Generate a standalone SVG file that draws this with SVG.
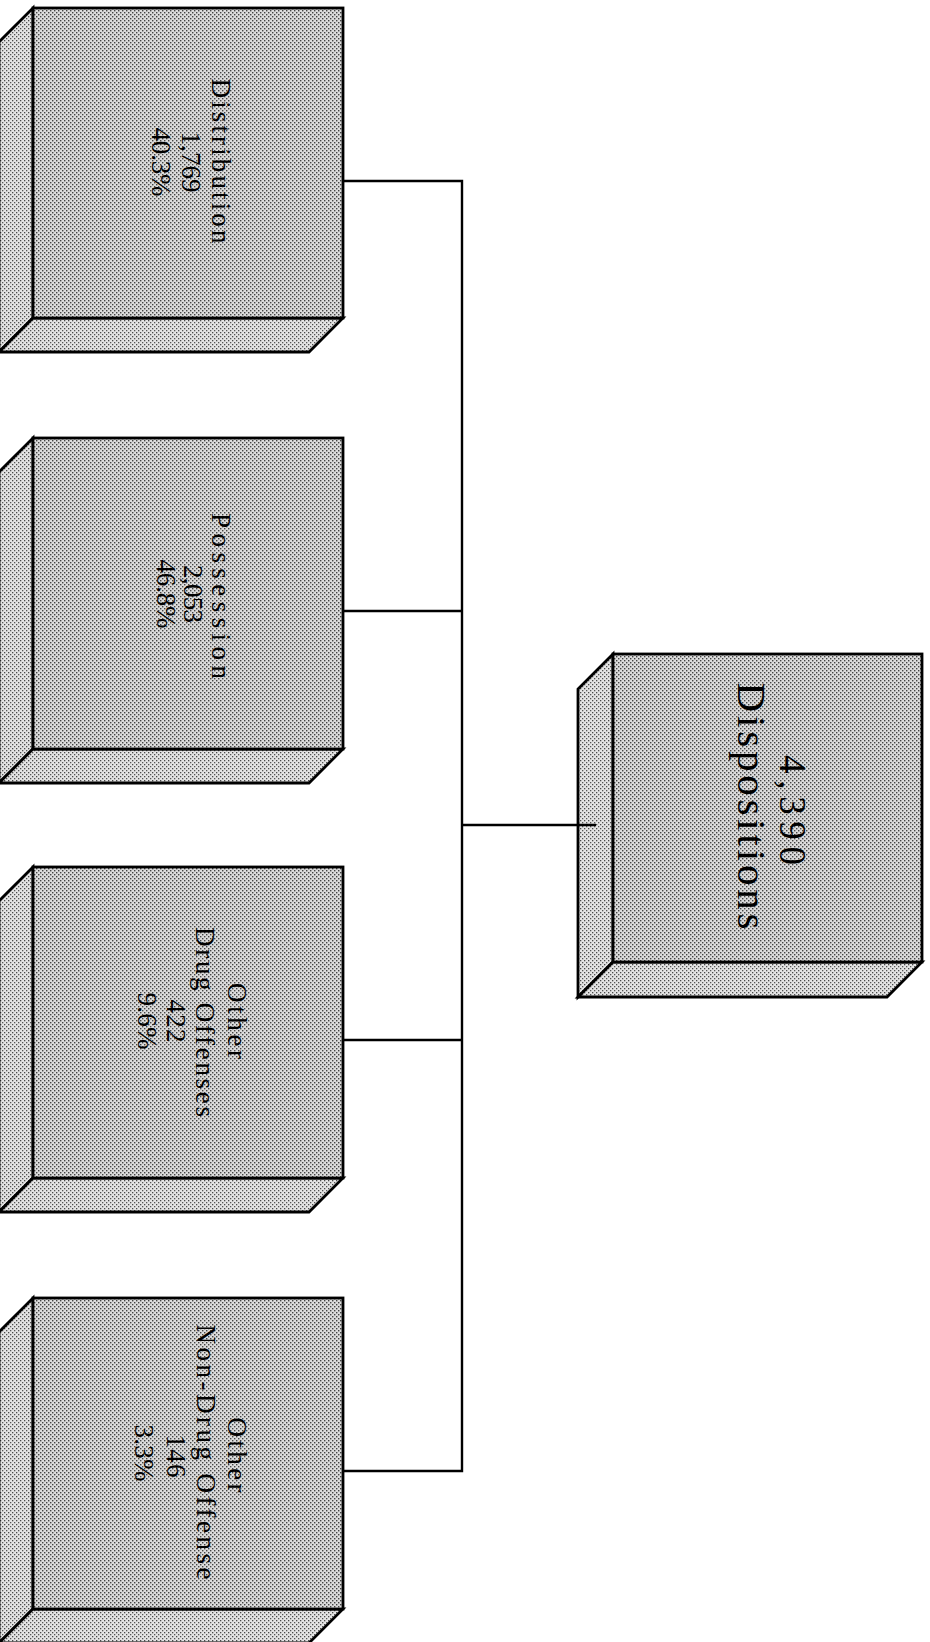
<svg xmlns="http://www.w3.org/2000/svg" width="930" height="1642" viewBox="0 0 930 1642">
<style>
.face{fill:url(#dotsFront);stroke:#000;stroke-width:2.8;stroke-linejoin:miter}
.side{fill:url(#dotsSide);stroke:#000;stroke-width:2.8;stroke-linejoin:miter}
.lbl{font-family:"Liberation Serif","Times New Roman",serif;font-size:27px;fill:#000;text-anchor:middle}
.big{font-family:"Liberation Serif","Times New Roman",serif;fill:#000;text-anchor:middle}
.conn{fill:none;stroke:#000;stroke-width:2.4}
</style>
<defs>
<pattern id="dotsFront" width="4" height="4" patternUnits="userSpaceOnUse">
<rect width="4" height="4" fill="#dcdcdc"/>
<rect x="0" y="0" width="1.4" height="1.4" fill="#444"/>
<rect x="2" y="2" width="1.4" height="1.4" fill="#444"/>
</pattern>
<pattern id="dotsSide" width="4" height="4" patternUnits="userSpaceOnUse">
<rect width="4" height="4" fill="#e4e4e4"/>
<rect x="0" y="0" width="1.3" height="1.3" fill="#4a4a4a"/>
<rect x="2" y="2" width="1.3" height="1.3" fill="#555"/>
</pattern>
</defs>
<rect width="930" height="1642" fill="#fff"/>

<g id="node-distribution">
<polygon class="side" points="33,8 -1,42 -1,352 33,318"/>
<polygon class="side" points="33,318 343,318 309,352 -1,352"/>
<rect class="face" x="33" y="8" width="310" height="310"/>
<text class="lbl" transform="translate(212,161) rotate(90)" textLength="165" lengthAdjust="spacing">Distribution</text>
<text class="lbl" transform="translate(182,162) rotate(90)" textLength="61" lengthAdjust="spacing">1,769</text>
<text class="lbl" transform="translate(152,162) rotate(90)" textLength="69" lengthAdjust="spacing">40.3%</text>
</g>

<g id="node-possession">
<polygon class="side" points="33,438 -1,472 -1,783 33,749"/>
<polygon class="side" points="33,749 343,749 309,783 -1,783"/>
<rect class="face" x="33" y="438" width="310" height="311"/>
<text class="lbl" transform="translate(212,596) rotate(90)" textLength="166" lengthAdjust="spacing">Possession</text>
<text class="lbl" transform="translate(184,594) rotate(90)" textLength="58" lengthAdjust="spacing">2,053</text>
<text class="lbl" transform="translate(157,594) rotate(90)" textLength="69" lengthAdjust="spacing">46.8%</text>
</g>

<g id="node-other-drug">
<polygon class="side" points="33,867 -1,901 -1,1212 33,1178"/>
<polygon class="side" points="33,1178 343,1178 309,1212 -1,1212"/>
<rect class="face" x="33" y="867" width="310" height="311"/>
<text class="lbl" transform="translate(228,1021) rotate(90)" textLength="76" lengthAdjust="spacing">Other</text>
<text class="lbl" transform="translate(196,1022) rotate(90)" textLength="190" lengthAdjust="spacing">Drug Offenses</text>
<text class="lbl" transform="translate(167,1021) rotate(90)" textLength="43" lengthAdjust="spacing">422</text>
<text class="lbl" transform="translate(138,1021) rotate(90)" textLength="57" lengthAdjust="spacing">9.6%</text>
</g>

<g id="node-other-nondrug">
<polygon class="side" points="33,1298 -1,1332 -1,1643 33,1609"/>
<polygon class="side" points="33,1609 343,1609 309,1643 -1,1643"/>
<rect class="face" x="33" y="1298" width="310" height="311"/>
<text class="lbl" transform="translate(228,1455) rotate(90)" textLength="75" lengthAdjust="spacing">Other</text>
<text class="lbl" transform="translate(197,1452) rotate(90)" textLength="255" lengthAdjust="spacing">Non-Drug Offense</text>
<text class="lbl" transform="translate(167,1456) rotate(90)" textLength="43" lengthAdjust="spacing">146</text>
<text class="lbl" transform="translate(135,1453) rotate(90)" textLength="57" lengthAdjust="spacing">3.3%</text>
</g>

<g id="node-dispositions">
<polygon class="side" points="613,654 578,689 578,997 613,962"/>
<polygon class="side" points="613,962 922,962 887,997 578,997"/>
<rect class="face" x="613" y="654" width="309" height="308"/>
<text class="big" font-size="37" transform="translate(780,810) rotate(90)" textLength="110" lengthAdjust="spacing">4,390</text>
<text class="big" font-size="41" transform="translate(738,806) rotate(90)" textLength="247" lengthAdjust="spacing">Dispositions</text>
</g>

<g id="connectors">
<path class="conn" d="M343,181 H462 V1471 H343"/>
<path class="conn" d="M343,611 H462"/>
<path class="conn" d="M343,1040 H462"/>
<path class="conn" d="M462,825 H596"/>
</g>
</svg>
